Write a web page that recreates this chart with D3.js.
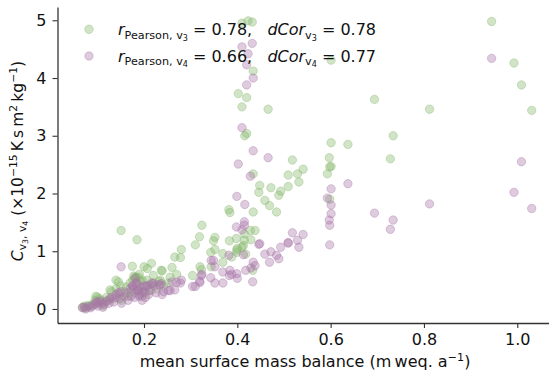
<!DOCTYPE html>
<html>
<head>
<meta charset="utf-8">
<script src="https://cdn.jsdelivr.net/npm/d3@7"></script>
<style>
  body { margin: 0; background: #fff; }
  svg { display: block; font-family: "DejaVu Sans", sans-serif; }
</style>
</head>
<body>
<script>
// mean surface mass balance per site (m weq. a^-1)
const smb = [
  0.945, 0.993, 1.009, 1.031, 0.812, 0.694, 0.734, 0.728, 0.637,
  0.601, 0.601, 0.597, 0.601, 0.598, 0.593, 0.598,
  0.466, 0.541, 0.518, 0.529, 0.509, 0.532, 0.509, 0.493, 0.489, 0.484,
  0.472, 0.469, 0.459, 0.448, 0.446,
  0.432, 0.410, 0.423, 0.420, 0.434, 0.420, 0.410, 0.434, 0.402, 0.428,
  0.416, 0.399, 0.415, 0.415, 0.398, 0.410, 0.434, 0.438, 0.429, 0.413,
  0.433, 0.418, 0.399, 0.400,
  0.382, 0.384, 0.324, 0.319, 0.310, 0.352, 0.349, 0.352, 0.343, 0.383,
  0.369, 0.369, 0.388, 0.344, 0.320, 0.323, 0.304,
  0.280, 0.266, 0.278, 0.260, 0.216, 0.207, 0.237, 0.239, 0.220, 0.256,
  0.270, 0.252, 0.235, 0.151, 0.185, 0.175, 0.178, 0.145, 0.188, 0.196,
  0.140, 0.200, 0.190, 0.181, 0.127, 0.097,
  0.068, 0.072, 0.075, 0.080, 0.085, 0.090, 0.095, 0.100, 0.102, 0.105,
  0.110, 0.112, 0.115, 0.120, 0.125, 0.130, 0.135, 0.140, 0.148, 0.150,
  0.152, 0.158, 0.162, 0.166, 0.170, 0.172, 0.176, 0.180, 0.183, 0.186,
  0.190, 0.193, 0.196, 0.200, 0.203, 0.206, 0.210, 0.214, 0.220, 0.226,
  0.232, 0.242
];

// C_v3 (x1e-15 K s m2 kg-1)
const cV3 = [
  4.98, 4.26, 3.88, 3.44, 3.46, 3.63, 3.00, 2.60, 2.85,
  4.31, 2.88, 2.62, 2.47, 2.46, 2.34, 1.90,
  3.46, 2.42, 2.58, 2.34, 2.32, 2.20, 2.12, 2.04, 1.97, 1.68,
  2.10, 1.79, 1.88, 2.14, 2.02,
  4.97, 4.95, 4.99, 3.66, 4.12, 3.04, 3.50, 2.34, 3.73, 1.36,
  3.00, 1.02, 1.19, 1.30, 1.22, 1.07, 1.68, 1.36, 1.20, 1.10,
  0.67, 0.95, 0.98, 1.05,
  1.72, 1.67, 1.45, 1.25, 1.11, 1.24, 1.18, 1.03, 0.98, 1.18,
  0.96, 0.81, 0.90, 0.73, 0.73, 0.68, 0.58,
  1.03, 0.90, 0.89, 0.72, 0.79, 0.70, 0.67, 0.66, 0.58, 0.55,
  0.60, 0.45, 0.50, 1.36, 1.20, 0.74, 0.57, 0.47, 0.55, 0.50,
  0.50, 0.73, 0.60, 0.55, 0.33, 0.22,
  0.03, 0.05, 0.02, 0.06, 0.05, 0.08, 0.15, 0.20, 0.10, 0.18,
  0.14, 0.06, 0.12, 0.20, 0.15, 0.30, 0.18, 0.35, 0.25, 0.40,
  0.15, 0.30, 0.38, 0.22, 0.45, 0.30, 0.50, 0.28, 0.55, 0.40,
  0.32, 0.48, 0.22, 0.38, 0.28, 0.50, 0.32, 0.42, 0.45, 0.35,
  0.48, 0.40
];

// C_v4 (x1e-15 K s m2 kg-1)
const cV4 = [
  4.34, 2.02, 2.55, 1.74, 1.82, 1.66, 1.54, 1.38, 2.17,
  2.08, 1.80, 1.54, 1.65, 1.45, 1.92, 1.11,
  2.62, 1.29, 1.32, 1.19, 1.15, 1.07, 1.14, 1.07, 0.87, 0.93,
  0.99, 0.81, 0.95, 1.13, 1.12,
  4.60, 4.54, 4.42, 4.23, 4.00, 3.88, 3.14, 2.74, 2.51, 2.30,
  1.81, 1.95, 1.51, 1.45, 1.42, 1.37, 0.81, 0.75, 0.71, 0.94,
  0.47, 0.67, 0.61, 0.53,
  0.93, 0.67, 0.60, 0.48, 0.39, 0.73, 0.84, 0.45, 0.54, 0.58,
  0.64, 0.45, 0.60, 0.84, 0.46, 0.58, 0.39,
  0.50, 0.33, 0.45, 0.47, 0.45, 0.40, 0.44, 0.25, 0.44, 0.32,
  0.46, 0.32, 0.41, 0.73, 0.45, 0.40, 0.35, 0.28, 0.32, 0.29,
  0.20, 0.40, 0.22, 0.53, 0.18, 0.12,
  0.02, 0.03, 0.00, 0.04, 0.02, 0.05, 0.08, 0.12, 0.05, 0.14,
  0.10, 0.03, 0.08, 0.14, 0.10, 0.20, 0.12, 0.25, 0.18, 0.30,
  0.10, 0.22, 0.28, 0.15, 0.35, 0.22, 0.40, 0.20, 0.45, 0.32,
  0.25, 0.38, 0.15, 0.30, 0.20, 0.40, 0.25, 0.32, 0.40, 0.28,
  0.42, 0.30
];

const xTicks = [0.2, 0.4, 0.6, 0.8, 1.0];
const yTicks = [0, 1, 2, 3, 4, 5];
const stats = [
  { name: "3", r: "0.78", dcor: "0.78" },
  { name: "4", r: "0.66", dcor: "0.77" }
];

function main() {
  const width = 549;
  const height = 375;
  const margin = { top: 7, right: 0, bottom: 52, left: 57.5 };
  const green = "rgb(135,185,108)";
  const purple = "rgb(168,118,168)";
  const alpha = 0.38;

  const x = d3.scaleLinear()
    .domain([0.0146, 1.068])
    .range([margin.left, width - margin.right]);

  const y = d3.scaleLinear()
    .domain([-0.243, 5.23])
    .range([height - margin.bottom, margin.top]);

  const svg = d3.create("svg")
    .attr("width", width)
    .attr("height", height);

  // writes a run of mathtext-ish pieces into one text element
  function rich(text, parts) {
    let shift = 0;
    parts.forEach(p => {
      const s = p.shift || 0;
      text.append("tspan")
        .attr("dy", s - shift)
        .attr("font-size", p.size)
        .attr("font-style", p.italic ? "italic" : null)
        .text(p.t);
      shift = s;
    });
  }

  function dot(sel, col) {
    sel.attr("fill", col)
      .attr("fill-opacity", alpha)
      .attr("stroke", col)
      .attr("stroke-opacity", alpha)
      .attr("stroke-width", 1);
  }

  // points
  const pts = smb.map((v, i) => ({ x: v, v3: cV3[i], v4: cV4[i] }));
  const series = [
    { key: "v3", color: green },
    { key: "v4", color: purple }
  ];
  series.forEach(s => {
    svg.append("g")
      .call(dot, s.color)
      .selectAll("circle")
      .data(pts)
      .join("circle")
      .attr("cx", d => x(d.x))
      .attr("cy", d => y(d[s.key]))
      .attr("r", 4.2);
  });

  // x axis
  const gx = svg.append("g")
    .attr("transform", `translate(0,${height - margin.bottom})`)
    .call(d3.axisBottom(x).tickValues(xTicks).tickFormat(d3.format(".1f"))
      .tickSize(5).tickPadding(6).tickSizeOuter(0));

  // y axis
  const gy = svg.append("g")
    .attr("transform", `translate(${margin.left},0)`)
    .call(d3.axisLeft(y).tickValues(yTicks).tickFormat(d3.format("d"))
      .tickSize(5).tickPadding(6).tickSizeOuter(0));

  [gx, gy].forEach(g => {
    g.select(".domain").attr("stroke", "#333").attr("stroke-width", 1.3);
    g.selectAll(".tick line").attr("stroke", "#333").attr("stroke-width", 1.1);
    g.selectAll(".tick text")
      .attr("fill", "#111")
      .attr("font-size", 16)
      .attr("font-family", "DejaVu Sans");
  });

  // axis labels
  const xl = svg.append("text")
    .attr("x", 305)
    .attr("y", 367)
    .attr("text-anchor", "middle")
    .attr("font-size", 16)
    .attr("fill", "#111");
  rich(xl, [
    { t: "mean surface mass balance (m\u2009weq. a", size: 16 },
    { t: "\u22121", size: 11.2, shift: -6.5 },
    { t: ")", size: 16 }
  ]);

  const yl = svg.append("text")
    .attr("transform", "translate(23,161) rotate(-90)")
    .attr("text-anchor", "middle")
    .attr("font-size", 15.5)
    .attr("fill", "#111");
  rich(yl, [
    { t: "C", size: 15.5, italic: true },
    { t: "v", size: 10.8, shift: 3 },
    { t: "3", size: 7.8, shift: 5 },
    { t: ", v", size: 10.8, shift: 3 },
    { t: "4", size: 7.8, shift: 5 },
    { t: " (\u00d710", size: 15.5 },
    { t: "\u221215", size: 10.8, shift: -6.5 },
    { t: "\u2009K\u2009s\u2009m", size: 15.5 },
    { t: "2", size: 10.8, shift: -6.5 },
    { t: "\u2009kg", size: 15.5 },
    { t: "\u22121", size: 10.8, shift: -6.5 },
    { t: ")", size: 15.5 }
  ]);

  // legend
  const leg = svg.append("g");
  stats.forEach((st, i) => {
    const cy = 29.3 + i * 26.7;
    leg.append("circle")
      .attr("cx", 89).attr("cy", cy).attr("r", 4.2)
      .call(dot, i === 0 ? green : purple);
    const t = leg.append("text")
      .attr("x", 118)
      .attr("y", cy + 5.8)
      .attr("font-size", 16)
      .attr("fill", "#111");
    rich(t, [
      { t: "r", size: 16, italic: true },
      { t: "Pearson, v", size: 11.2, shift: 3.5 },
      { t: st.name, size: 8, shift: 5.5 },
      { t: "\u00a0=\u00a0" + st.r + ",\u00a0\u00a0\u00a0", size: 16 },
      { t: "dCor", size: 16, italic: true },
      { t: "v", size: 11.2, shift: 3.5 },
      { t: st.name, size: 8, shift: 5.5 },
      { t: "\u00a0=\u00a0" + st.dcor, size: 16 }
    ]);
  });

  document.body.appendChild(svg.node());
}

main();
</script>
</body>
</html>
